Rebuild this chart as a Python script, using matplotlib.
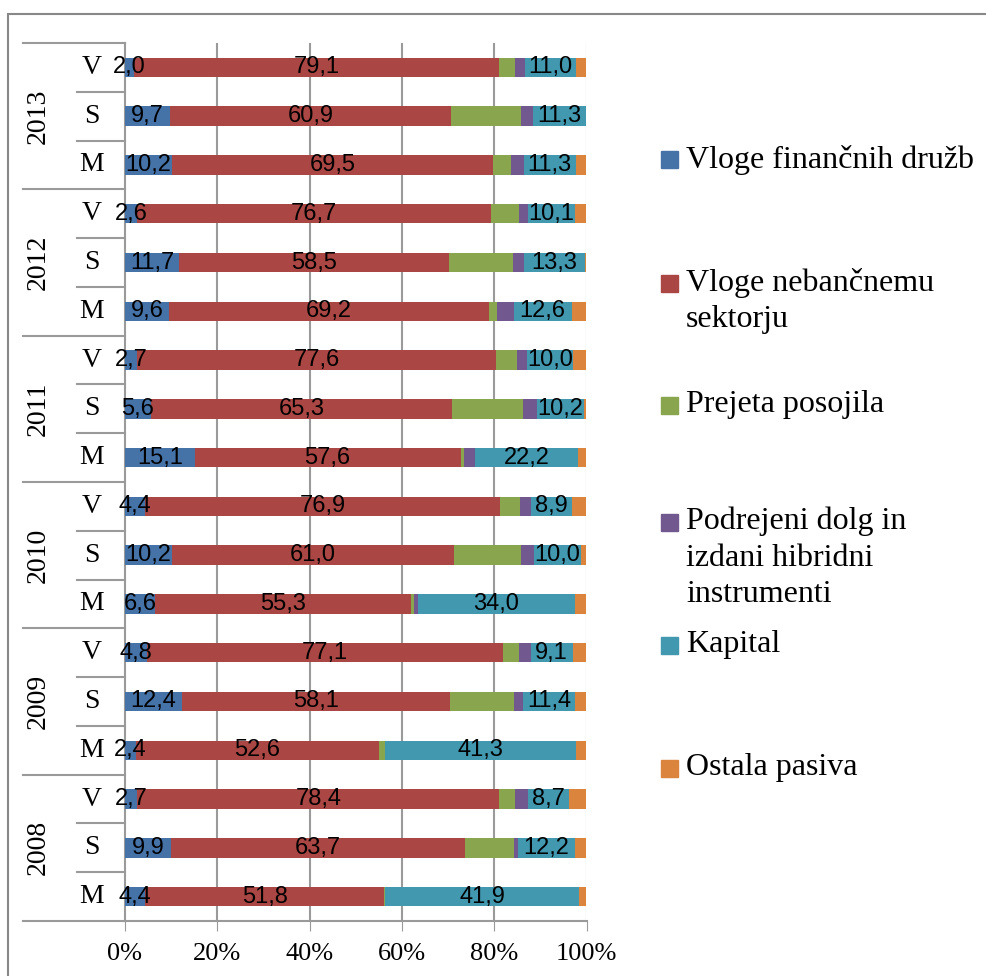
import numpy as np
import matplotlib
matplotlib.use('Agg')
import matplotlib.pyplot as plt
from matplotlib.patches import Rectangle
from matplotlib.lines import Line2D
import matplotlib.transforms as mtransforms

#--rows from bottom to top: 2008 M,S,V ... 2013 M,S,V
years = ['2008', '2009', '2010', '2011', '2012', '2013']
groups = ['M', 'S', 'V']

series_names = ['Vloge finančnih družb',
                'Vloge nebančnemu\nsektorju',
                'Prejeta posojila',
                'Podrejeni dolg in\nizdani hibridni\ninstrumenti',
                'Kapital',
                'Ostala pasiva']

vloge_fin = [4.4, 9.9, 2.7, 2.4, 12.4, 4.8, 6.6, 10.2, 4.4,
             15.1, 5.6, 2.7, 9.6, 11.7, 2.6, 10.2, 9.7, 2.0]
vloge_neban = [51.8, 63.7, 78.4, 52.6, 58.1, 77.1, 55.3, 61.0, 76.9,
               57.6, 65.3, 77.6, 69.2, 58.5, 76.7, 69.5, 60.9, 79.1]
posojila = [0.2, 10.6, 3.5, 1.4, 13.7, 3.4, 0.7, 14.7, 4.2,
            0.7, 15.4, 4.7, 1.9, 13.8, 6.0, 3.9, 15.3, 3.5]
podrejeni = [0.0, 1.0, 2.8, 0.0, 2.0, 2.6, 0.8, 2.8, 2.5,
             2.5, 2.9, 2.1, 3.5, 2.4, 2.0, 2.8, 2.6, 2.1]
kapital = [41.9, 12.2, 8.7, 41.3, 11.4, 9.1, 34.0, 10.0, 8.9,
           22.2, 10.2, 10.0, 12.6, 13.3, 10.1, 11.3, 11.3, 11.0]
ostalo = [1.7, 2.6, 3.9, 2.3, 2.4, 3.0, 2.6, 1.3, 3.1,
          1.9, 0.6, 2.9, 3.2, 0.3, 2.6, 2.3, 0.2, 2.3]

xticks = [0, 20, 40, 60, 80, 100]
xticklabels = ['0%', '20%', '40%', '60%', '80%', '100%']

colors = ['#4572A7', '#AA4643', '#89A54E', '#71588F', '#4198AF', '#DB843D']
labelled = [0, 1, 4]   #--series with data labels

serif = 'Liberation Serif'
sans = 'Liberation Sans'
grid_c = '#9a9a9a'

data = np.array([vloge_fin, vloge_neban, posojila, podrejeni, kapital, ostalo])
nrow = data.shape[1]
ypos = np.arange(nrow)

fig = plt.figure(figsize=(9.87, 9.76), dpi=100)
ax = fig.add_axes([125/987., 1-921/976., 461.5/987., 878/976.])

left = np.zeros(nrow)
for k in range(len(data)):
    vals = data[k]
    ax.barh(ypos, vals, left=left, height=0.4, color=colors[k], edgecolor='none', zorder=3)
    if k in labelled:
        for i in range(nrow):
            ax.text(left[i]+vals[i]/2., ypos[i], ('%.1f' % vals[i]).replace('.', ','),
                    ha='center', va='center', fontsize=17, family=sans, color='black', zorder=5)
    left = left + vals

ax.set_xlim(0, 100)
ax.set_ylim(-0.5, nrow-0.5)
ax.set_xticks(xticks)
ax.set_xticklabels(xticklabels, family=serif, fontsize=19)
ax.set_yticks([])
ax.tick_params(axis='x', direction='out', length=7, color=grid_c, pad=9)
for x in xticks[1:]:
    ax.axvline(x, color=grid_c, lw=1.5, zorder=1)
for s in ['top', 'right']:
    ax.spines[s].set_visible(False)
for s in ['left', 'bottom']:
    ax.spines[s].set_color(grid_c)
    ax.spines[s].set_linewidth(1.5)

#--multi level category axis on the left
trans = mtransforms.blended_transform_factory(ax.transAxes, ax.transData)
x_outer = (22.7-125)/461.5
x_inner = (77-125)/461.5
for j in range(len(years)+1):
    yb = 3*j - 0.5
    ax.add_line(Line2D([x_outer, 0], [yb, yb], transform=trans, color=grid_c, lw=1.5, clip_on=False))
for i in range(nrow):
    if i % 3 != 0:
        ax.add_line(Line2D([x_inner, 0], [i-0.5, i-0.5], transform=trans, color=grid_c, lw=1.5, clip_on=False))
    ax.text((92-125)/461.5, ypos[i], groups[i % 3], transform=trans, ha='center', va='center',
            family=serif, fontsize=20)
for j, yr in enumerate(years):
    ax.text((38-125)/461.5, 3*j+1, yr, transform=trans, ha='center', va='center',
            rotation=90, family=serif, fontsize=20)

#--legend
leg_y = [160, 283, 405, 522, 645, 768]
for k in range(len(series_names)):
    yc = 1 - leg_y[k]/976.
    fig.patches.append(Rectangle((661/987., yc-8.5/976.), 17/987., 17/976.,
                                 transform=fig.transFigure, color=colors[k]))
    fig.text(686/987., yc+15/976., series_names[k], ha='left', va='top', family=serif,
             fontsize=23, linespacing=1.32)

#--chart frame
fig.patches.append(Rectangle((8.3/987., -0.1), 2, 1.1-14/976., transform=fig.transFigure,
                             fill=False, edgecolor='#888888', lw=1.5))

fig.savefig('out.png', dpi=100)
